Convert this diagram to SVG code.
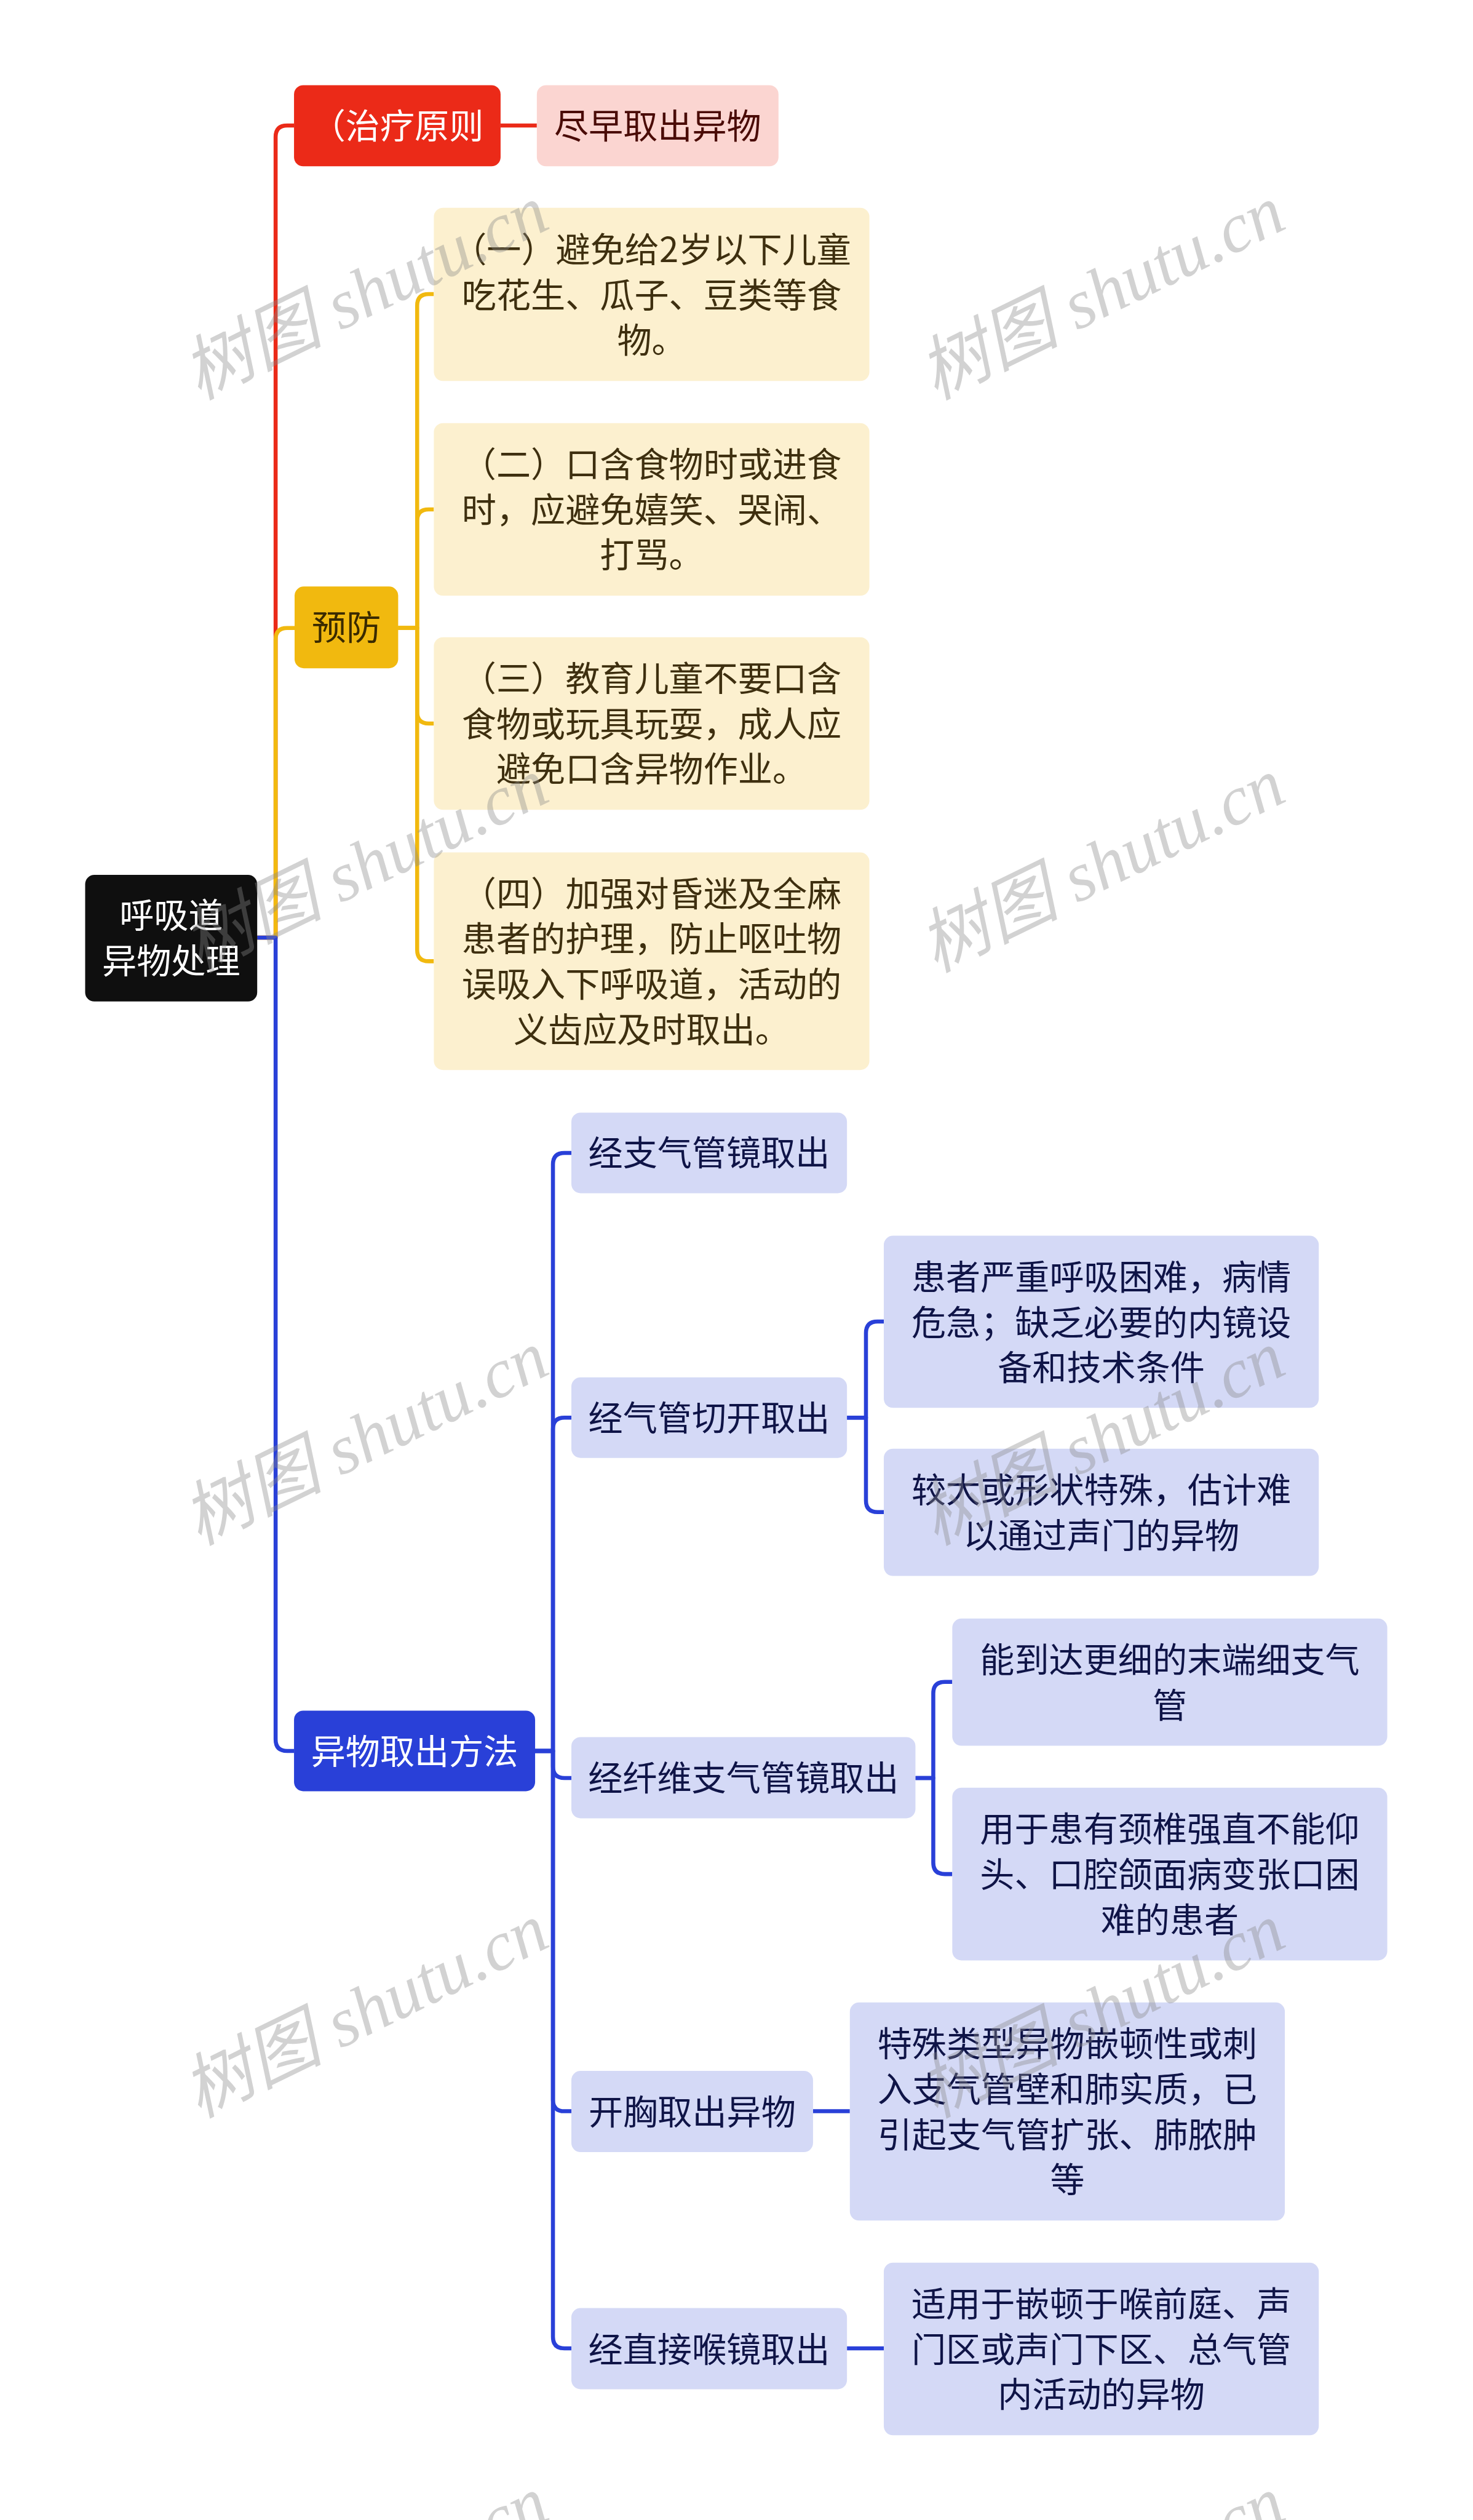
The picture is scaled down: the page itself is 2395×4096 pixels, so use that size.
<svg xmlns="http://www.w3.org/2000/svg" width="2395" height="4096" viewBox="0 0 2395 4096">
<style>
text{font-family:"Noto Sans CJK SC","Noto Sans CJK TC",sans-serif;font-size:60px;text-anchor:middle}
.c{fill:none;stroke-width:7;stroke-linejoin:round}
.cr{stroke:#EB2A18}.cy{stroke:#F1B90F}.cb{stroke:#2940D8}
.root rect{fill:#0F0F0F}.root text{fill:#FFFFFF}
.l1r rect{fill:#EB2A18}.l1r text{fill:#FFFFFF}
.pk rect{fill:#FBD5D1}.pk text{fill:#4A0B06}
.l1y rect{fill:#F1B90F}.l1y text{fill:#3A2A00}
.cm rect{fill:#FCF0CF}.cm text{fill:#3E2F0F}
.l1b rect{fill:#2940D8}.l1b text{fill:#FFFFFF}
.lv rect{fill:#D4D9F6}.lv text{fill:#0F1447}
.wm text{font-family:"Liberation Serif","Noto Sans CJK SC",serif;font-style:italic;font-size:122px;fill:#8A8A8A;fill-opacity:0.38;text-anchor:start}
</style>
<rect width="2395" height="4096" fill="#FFFFFF"/>
<g transform="scale(0.935547)">
<g id="connectors">
<path class="c cr" d="M447,1629 H479 V238 Q479,218 499,218 H511"/>
<path class="c cr" d="M870,218 H933"/>
<path class="c cy" d="M447,1629 H479 V1111 Q479,1091 499,1091 H512"/>
<path class="c cy" d="M692,1091 H725 V531 Q725,511 745,511 H754"/>
<path class="c cy" d="M692,1091 H725 V905 Q725,885 745,885 H754"/>
<path class="c cy" d="M692,1091 H725 V1237 Q725,1257 745,1257 H754"/>
<path class="c cy" d="M692,1091 H725 V1650 Q725,1670 745,1670 H754"/>
<path class="c cb" d="M447,1629 H479 V3022 Q479,3042 499,3042 H511"/>
<path class="c cb" d="M930,3042 H961 V2023 Q961,2003 981,2003 H993"/>
<path class="c cb" d="M930,3042 H961 V2483 Q961,2463 981,2463 H993"/>
<path class="c cb" d="M930,3042 H961 V3069 Q961,3089 981,3089 H993"/>
<path class="c cb" d="M930,3042 H961 V3648 Q961,3668 981,3668 H993"/>
<path class="c cb" d="M930,3042 H961 V4060 Q961,4080 981,4080 H993"/>
<path class="c cb" d="M1472,2463 H1505 V2316 Q1505,2296 1525,2296 H1536"/>
<path class="c cb" d="M1472,2463 H1505 V2607 Q1505,2627 1525,2627 H1536"/>
<path class="c cb" d="M1591,3089 H1622 V2942 Q1622,2922 1642,2922 H1655"/>
<path class="c cb" d="M1591,3089 H1622 V3236 Q1622,3256 1642,3256 H1655"/>
<path class="c cb" d="M1413,3668 H1477"/>
<path class="c cb" d="M1472,4080 H1536"/>
</g>
<g id="root" class="root"><rect x="148" y="1520" width="299" height="220" rx="16"/><text><tspan x="297.5" y="1612">呼吸道</tspan><tspan x="297.5" y="1691">异物处理</tspan></text></g>
<g id="n-zhiliao" class="l1r"><rect x="511" y="148" width="359" height="141" rx="16"/><text x="690.5" y="241">（治疗原则</text></g>
<g id="n-jinzao" class="pk"><rect x="933" y="148" width="420" height="141" rx="16"/><text x="1143" y="241">尽早取出异物</text></g>
<g id="n-yufang" class="l1y"><rect x="512" y="1019" width="180" height="142" rx="16"/><text x="602" y="1112">预防</text></g>
<g id="n-y1" class="cm"><rect x="754" y="361" width="757" height="301" rx="16"/><text><tspan x="1132.5" y="455">（一）避免给2岁以下儿童</tspan><tspan x="1132.5" y="534">吃花生、瓜子、豆类等食</tspan><tspan x="1132.5" y="613">物。</tspan></text></g>
<g id="n-y2" class="cm"><rect x="754" y="735" width="757" height="300" rx="16"/><text><tspan x="1132.5" y="828">（二）口含食物时或进食</tspan><tspan x="1132.5" y="907">时，应避免嬉笑、哭闹、</tspan><tspan x="1132.5" y="986">打骂。</tspan></text></g>
<g id="n-y3" class="cm"><rect x="754" y="1107" width="757" height="300" rx="16"/><text><tspan x="1132.5" y="1200">（三）教育儿童不要口含</tspan><tspan x="1132.5" y="1279">食物或玩具玩耍，成人应</tspan><tspan x="1132.5" y="1358">避免口含异物作业。</tspan></text></g>
<g id="n-y4" class="cm"><rect x="754" y="1481" width="757" height="378" rx="16"/><text><tspan x="1132.5" y="1574">（四）加强对昏迷及全麻</tspan><tspan x="1132.5" y="1653">患者的护理，防止呕吐物</tspan><tspan x="1132.5" y="1732">误吸入下呼吸道，活动的</tspan><tspan x="1132.5" y="1811">义齿应及时取出。</tspan></text></g>
<g id="n-quchu" class="l1b"><rect x="511" y="2972" width="419" height="140" rx="16"/><text x="720.5" y="3064">异物取出方法</text></g>
<g id="n-b1" class="lv"><rect x="993" y="1933" width="479" height="140" rx="16"/><text x="1232.5" y="2025">经支气管镜取出</text></g>
<g id="n-b2" class="lv"><rect x="993" y="2393" width="479" height="140" rx="16"/><text x="1232.5" y="2485">经气管切开取出</text></g>
<g id="n-b3" class="lv"><rect x="993" y="3018" width="598" height="141" rx="16"/><text x="1292" y="3111">经纤维支气管镜取出</text></g>
<g id="n-b4" class="lv"><rect x="993" y="3598" width="420" height="141" rx="16"/><text x="1203" y="3691">开胸取出异物</text></g>
<g id="n-b5" class="lv"><rect x="993" y="4010" width="479" height="141" rx="16"/><text x="1232.5" y="4103">经直接喉镜取出</text></g>
<g id="n-b2a" class="lv"><rect x="1536" y="2147" width="756" height="299" rx="16"/><text><tspan x="1914" y="2240">患者严重呼吸困难，病情</tspan><tspan x="1914" y="2319">危急；缺乏必要的内镜设</tspan><tspan x="1914" y="2398">备和技术条件</tspan></text></g>
<g id="n-b2b" class="lv"><rect x="1536" y="2517" width="756" height="221" rx="16"/><text><tspan x="1914" y="2610">较大或形状特殊，估计难</tspan><tspan x="1914" y="2689">以通过声门的异物</tspan></text></g>
<g id="n-b3a" class="lv"><rect x="1655" y="2812" width="756" height="221" rx="16"/><text><tspan x="2033" y="2905">能到达更细的末端细支气</tspan><tspan x="2033" y="2984">管</tspan></text></g>
<g id="n-b3b" class="lv"><rect x="1655" y="3106" width="756" height="300" rx="16"/><text><tspan x="2033" y="3199">用于患有颈椎强直不能仰</tspan><tspan x="2033" y="3278">头、口腔颌面病变张口困</tspan><tspan x="2033" y="3357">难的患者</tspan></text></g>
<g id="n-b4a" class="lv"><rect x="1477" y="3479" width="756" height="379" rx="16"/><text><tspan x="1855" y="3572">特殊类型异物嵌顿性或刺</tspan><tspan x="1855" y="3651">入支气管壁和肺实质，已</tspan><tspan x="1855" y="3730">引起支气管扩张、肺脓肿</tspan><tspan x="1855" y="3809">等</tspan></text></g>
<g id="n-b5a" class="lv"><rect x="1536" y="3931" width="756" height="300" rx="16"/><text><tspan x="1914" y="4024">适用于嵌顿于喉前庭、声</tspan><tspan x="1914" y="4103">门区或声门下区、总气管</tspan><tspan x="1914" y="4182">内活动的异物</tspan></text></g>
<g id="watermarks" class="wm">
<text transform="translate(345,695) rotate(-26)">树图 shutu.cn</text>
<text transform="translate(1625,695) rotate(-26)">树图 shutu.cn</text>
<text transform="translate(345,1690) rotate(-26)">树图 shutu.cn</text>
<text transform="translate(1625,1690) rotate(-26)">树图 shutu.cn</text>
<text transform="translate(345,2685) rotate(-26)">树图 shutu.cn</text>
<text transform="translate(1625,2685) rotate(-26)">树图 shutu.cn</text>
<text transform="translate(345,3680) rotate(-26)">树图 shutu.cn</text>
<text transform="translate(1625,3680) rotate(-26)">树图 shutu.cn</text>
<text transform="translate(345,4675) rotate(-26)">树图 shutu.cn</text>
<text transform="translate(1625,4675) rotate(-26)">树图 shutu.cn</text>
</g>
</g>
</svg>
